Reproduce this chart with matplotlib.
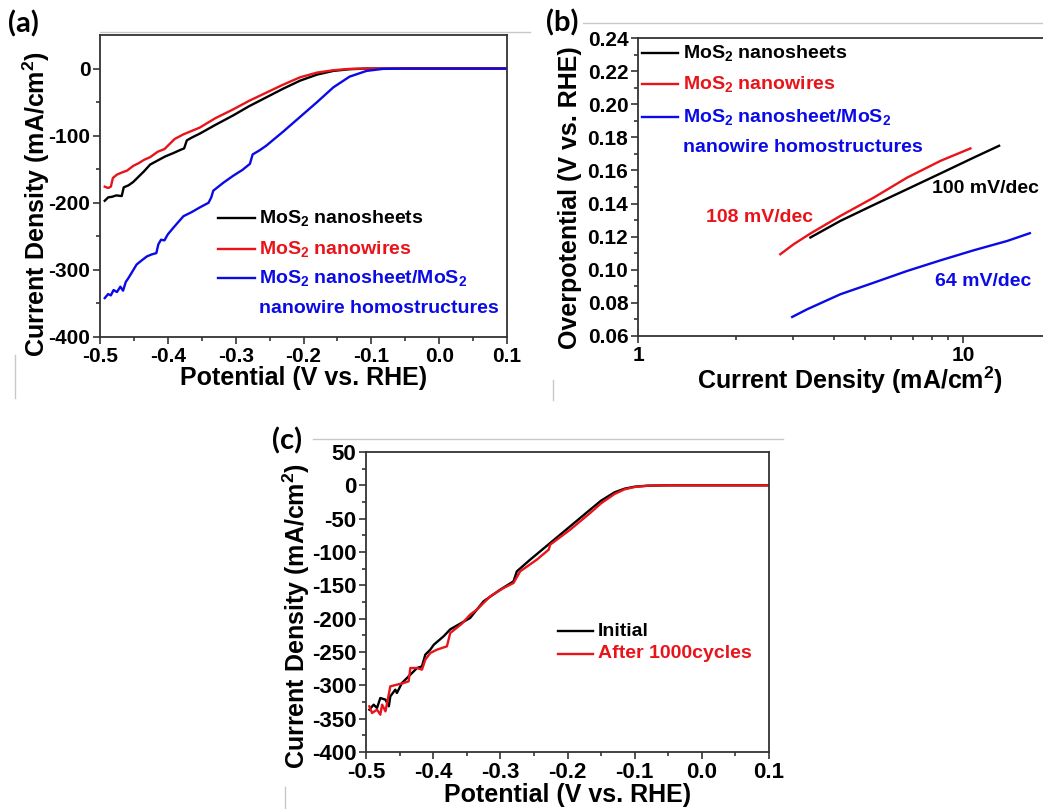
import matplotlib
matplotlib.use("Agg")
import matplotlib.pyplot as plt
from matplotlib.lines import Line2D
from matplotlib.ticker import MultipleLocator, FixedLocator, NullFormatter, FormatStrFormatter

plt.rcParams["font.family"] = ["Liberation Sans", "DejaVu Sans"]
plt.rcParams["font.weight"] = "bold"
plt.rcParams["mathtext.fontset"] = "custom"
plt.rcParams["mathtext.rm"] = "Liberation Sans:bold"
plt.rcParams["mathtext.bf"] = "Liberation Sans:bold"
plt.rcParams["mathtext.it"] = "Liberation Sans:bold:italic"
plt.rcParams["axes.unicode_minus"] = False

# (a) polarization curves
a_sheet_x = [-0.493, -0.488, -0.482, -0.476, -0.468, -0.465, -0.458, -0.451, -0.443, -0.435, -0.426,
             -0.415, -0.404, -0.392, -0.381, -0.376, -0.372, -0.365, -0.353, -0.330, -0.304, -0.280,
             -0.255, -0.230, -0.205, -0.180, -0.156, -0.132, -0.107, -0.080, 0.0, 0.1]
a_sheet_y = [-197, -192, -191, -189, -190, -177, -174, -169, -161, -153, -143,
             -137, -131, -126, -121, -119, -107, -103, -97, -84, -70, -56,
             -43, -30, -18, -9, -3.5, -1, 0, 0, 0, 0]
a_wire_x = [-0.493, -0.488, -0.484, -0.481, -0.475, -0.468, -0.460, -0.451, -0.443, -0.435, -0.426,
            -0.415, -0.405, -0.400, -0.390, -0.377, -0.365, -0.353, -0.330, -0.304, -0.280, -0.255,
            -0.230, -0.205, -0.180, -0.156, -0.132, -0.107, -0.080, 0.0, 0.1]
a_wire_y = [-176, -178, -176, -163, -158, -155, -152, -145, -141, -136, -132,
            -124, -120, -115, -105, -98, -93, -88, -74, -61, -48, -36,
            -24, -13, -6, -2.5, -0.5, 0, 0, 0, 0]
a_homo_x = [-0.493, -0.488, -0.484, -0.480, -0.475, -0.470, -0.466, -0.462, -0.458, -0.452, -0.446,
            -0.440, -0.431, -0.424, -0.417, -0.414, -0.410, -0.405, -0.400, -0.390, -0.377, -0.365,
            -0.353, -0.340, -0.336, -0.333, -0.318, -0.304, -0.290, -0.279, -0.275, -0.265, -0.255,
            -0.230, -0.205, -0.180, -0.156, -0.132, -0.107, -0.083, -0.050, 0.0, 0.1]
a_homo_y = [-342, -336, -338, -330, -333, -325, -331, -318, -312, -302, -292,
            -287, -280, -277, -275, -262, -255, -256, -247, -235, -220, -214,
            -207, -200, -192, -182, -170, -160, -151, -142, -128, -122, -115,
            -94, -72, -50, -28, -12, -3.5, -0.5, 0, 0, 0]

# (b) Tafel plots
b_sheet_x = [3.39, 4.19, 5.31, 6.73, 8.52, 10.79, 12.9]
b_sheet_y = [0.1195, 0.1295, 0.1392, 0.1487, 0.1582, 0.1678, 0.1749]
b_wire_x = [2.74, 3.01, 3.39, 4.19, 5.31, 6.73, 8.52, 10.53]
b_wire_y = [0.1094, 0.1154, 0.1219, 0.1325, 0.1436, 0.1557, 0.1658, 0.1733]
b_homo_x = [2.98, 3.31, 4.19, 5.31, 6.73, 8.52, 10.79, 13.66, 16.04]
b_homo_y = [0.0715, 0.0761, 0.0852, 0.0922, 0.0993, 0.1057, 0.1118, 0.1174, 0.1221]
b_slopes = ["100 mV/dec", "108 mV/dec", "64 mV/dec"]

# (c) stability
c_init_x = [-0.495, -0.4886, -0.4836, -0.4787, -0.471, -0.466, -0.4638, -0.4564, -0.454, -0.4465,
            -0.434, -0.424, -0.4167, -0.4117, -0.4043, -0.399, -0.3845, -0.3746, -0.345, -0.325,
            -0.3002, -0.2804, -0.2754, -0.2556, -0.2258, -0.196, -0.1663, -0.15, -0.13, -0.115,
            -0.10, -0.08, -0.05, 0.0, 0.1]
c_init_y = [-336.5, -329, -334, -319, -321.5, -331.5, -316.5, -306.5, -311.5, -296.5,
            -284, -274, -271.5, -254, -246.5, -239, -226.5, -216, -199, -174,
            -156.5, -144, -129, -111.5, -86.5, -61.5, -36.5, -23, -10.5, -5,
            -2, -0.5, 0, 0, 0]
c_cyc_x = [-0.495, -0.491, -0.4836, -0.4787, -0.476, -0.471, -0.4638, -0.454, -0.444, -0.4365,
           -0.434, -0.424, -0.4167, -0.4117, -0.4043, -0.3944, -0.3795, -0.3746, -0.3572, -0.345,
           -0.335, -0.315, -0.2952, -0.2804, -0.2705, -0.2457, -0.228, -0.2258, -0.196, -0.1663,
           -0.15, -0.13, -0.115, -0.10, -0.08, -0.05, 0.0, 0.1]
c_cyc_y = [-331.5, -341.5, -336.5, -344, -329, -339, -301.5, -299, -296.5, -294,
           -274, -274, -276.5, -261.5, -251.5, -246.5, -241.5, -221.5, -207.5, -194,
           -186.5, -166.5, -154, -146.5, -129, -111.5, -96.5, -89, -66.5, -41.5,
           -27, -13, -6, -2.5, -0.5, 0, 0, 0]

BLACK = "#000000"
RED = "#e8141a"
BLUE = "#0a0ae6"
W, H = 1043, 809
LABEL_FS = 18
LEG_FS = 14
LW = 1.7


def px_axes(fig, left, top, right, bottom):
    return fig.add_axes([left / W, 1 - bottom / H, (right - left) / W, (bottom - top) / H])


def style(ax, tick_fs):
    for side in ("left", "bottom", "top", "right"):
        ax.spines[side].set_color("#333333")
        ax.spines[side].set_linewidth(1.3)
    ax.tick_params(which="both", direction="out", top=False, right=False, width=1.2,
                   colors="#333333", labelcolor="black", labelsize=tick_fs, pad=2)
    ax.tick_params(which="major", length=5)
    ax.tick_params(which="minor", length=3)
    for lab in ax.get_xticklabels() + ax.get_yticklabels():
        lab.set_fontweight("bold")


def labels(ax, xlabel, ylabel, ylabel_pos):
    ax.set_xlabel(xlabel, fontsize=LABEL_FS, fontweight="bold", labelpad=0)
    ax.set_ylabel(ylabel, fontsize=LABEL_FS, fontweight="bold")
    ax.yaxis.set_label_coords(*ylabel_pos)


def legend(ax, entries, x0, x1, xt, rows):
    for (color, text, has_line), y in zip(entries, rows):
        if has_line:
            ax.plot([x0, x1], [y, y], color=color, lw=LW, transform=ax.transAxes, clip_on=False)
        ax.text(xt, y, text, color=color, fontsize=LEG_FS, fontweight="bold",
                transform=ax.transAxes, va="center")


fig = plt.figure(figsize=(W / 100, H / 100), dpi=100)
fig.patch.set_facecolor("white")

# faint panel borders from the original composite
for xs, ys in [((100, 530), (32, 32)), ((15, 15), (355, 398)),
               ((583, 1043), (23, 23)), ((553, 553), (380, 400)),
               ((313, 783), (439, 439)), ((285, 285), (787, 809))]:
    fig.add_artist(Line2D([x / W for x in xs], [1 - y / H for y in ys], color="#c8c8c8", lw=1.0))

homo_rows = [(BLUE, "MoS$_2$ nanosheet/MoS$_2$", True), (BLUE, "nanowire homostructures", False)]

# (a)
ax = px_axes(fig, 100, 35, 507, 337)
ax.plot(a_sheet_x, a_sheet_y, color=BLACK, lw=LW)
ax.plot(a_wire_x, a_wire_y, color=RED, lw=LW)
ax.plot(a_homo_x, a_homo_y, color=BLUE, lw=LW)
ax.set_xlim(-0.5, 0.1)
ax.set_ylim(-400, 50)
ax.xaxis.set_major_locator(MultipleLocator(0.1))
ax.xaxis.set_minor_locator(MultipleLocator(0.05))
ax.yaxis.set_major_locator(FixedLocator([-400, -300, -200, -100, 0]))
ax.yaxis.set_minor_locator(FixedLocator([-350, -250, -150, -50]))
ax.xaxis.set_major_formatter(FormatStrFormatter("%.1f"))
style(ax, 15)
labels(ax, "Potential (V vs. RHE)", "Current Density (mA/cm$^2$)", (-0.118, 0.44))
legend(ax, [(BLACK, "MoS$_2$ nanosheets", True), (RED, "MoS$_2$ nanowires", True)] + homo_rows,
       0.29, 0.381, 0.39, [0.395, 0.293, 0.194, 0.095])
fig.text(8 / W, 1 - 32 / H, "(a)", fontsize=21, fontweight="bold", family=["Lato", "DejaVu Sans"],
         va="baseline")

# (b)
ax = px_axes(fig, 638, 38, 1061, 336)
ax.plot(b_sheet_x, b_sheet_y, color=BLACK, lw=LW)
ax.plot(b_wire_x, b_wire_y, color=RED, lw=LW)
ax.plot(b_homo_x, b_homo_y, color=BLUE, lw=LW)
ax.set_xscale("log")
ax.set_xlim(1, 20)
ax.set_ylim(0.06, 0.24)
ax.xaxis.set_major_locator(FixedLocator([1, 10]))
ax.xaxis.set_major_formatter(FormatStrFormatter("%d"))
ax.xaxis.set_minor_locator(FixedLocator([2, 3, 4, 5, 6, 7, 8, 9, 20]))
ax.xaxis.set_minor_formatter(NullFormatter())
ax.yaxis.set_major_locator(MultipleLocator(0.02))
ax.yaxis.set_minor_locator(MultipleLocator(0.01))
ax.yaxis.set_major_formatter(FormatStrFormatter("%.2f"))
style(ax, 15)
labels(ax, "Current Density (mA/cm$^2$)", "Overpotential (V vs. RHE)", (-0.132, 0.463))
legend(ax, [(BLACK, "MoS$_2$ nanosheets", True), (RED, "MoS$_2$ nanowires", True)] + homo_rows,
       0.01, 0.095, 0.106, [0.95, 0.846, 0.735, 0.631])
ax.text(8.0, 0.1488, b_slopes[0], color=BLACK, fontsize=LEG_FS, fontweight="bold", va="center")
ax.text(1.62, 0.1313, b_slopes[1], color=RED, fontsize=LEG_FS, fontweight="bold", va="center")
ax.text(8.2, 0.0932, b_slopes[2], color=BLUE, fontsize=LEG_FS, fontweight="bold", va="center")
fig.text(546 / W, 1 - 31 / H, "(b)", fontsize=21, fontweight="bold", family=["Lato", "DejaVu Sans"],
         va="baseline")

# (c)
ax = px_axes(fig, 366, 452, 769, 752)
ax.plot(c_init_x, c_init_y, color=BLACK, lw=LW)
ax.plot(c_cyc_x, c_cyc_y, color=RED, lw=LW)
ax.set_xlim(-0.5, 0.1)
ax.set_ylim(-400, 50)
ax.xaxis.set_major_locator(MultipleLocator(0.1))
ax.xaxis.set_minor_locator(MultipleLocator(0.05))
ax.yaxis.set_major_locator(MultipleLocator(50))
ax.yaxis.set_minor_locator(MultipleLocator(25))
ax.xaxis.set_major_formatter(FormatStrFormatter("%.1f"))
style(ax, 16)
labels(ax, "Potential (V vs. RHE)", "Current Density (mA/cm$^2$)", (-0.134, 0.453))
legend(ax, [(BLACK, "Initial", True), (RED, "After 1000cycles", True)],
       0.476, 0.563, 0.576, [0.403, 0.327])
fig.text(272 / W, 1 - 449 / H, "(c)", fontsize=21, fontweight="bold", family=["Lato", "DejaVu Sans"],
         va="baseline")

fig.savefig("out.png", dpi=100, facecolor="white")
